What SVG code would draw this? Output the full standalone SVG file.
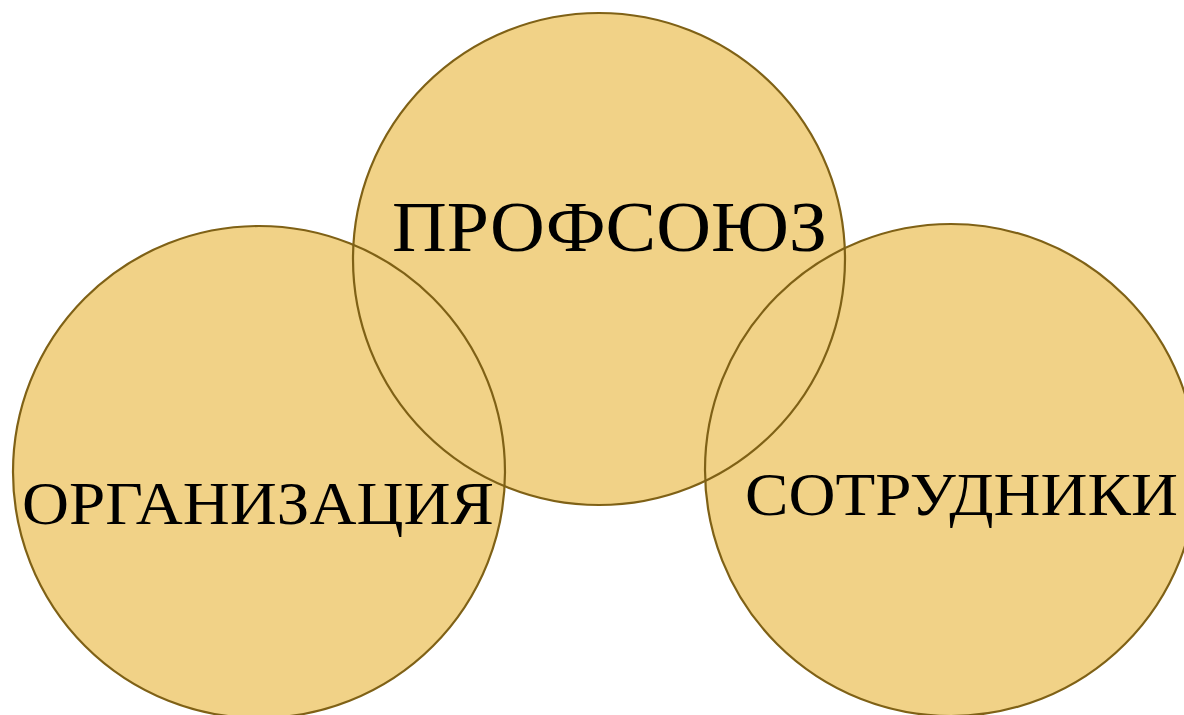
<svg xmlns="http://www.w3.org/2000/svg" width="1184" height="715" viewBox="0 0 1184 715">
  <style>
    .fill { fill: #F1D287; stroke: none; }
    .ring { fill: none; stroke: #7F6116; stroke-width: 2.2; }
    .lbl { font-family: "Liberation Serif", "DejaVu Serif", serif; fill: #000; }
  </style>
  <rect width="1184" height="715" fill="#ffffff"/>
  <g id="node-org">
    <circle class="fill" cx="259" cy="472" r="246"/>
  </g>
  <g id="node-union">
    <circle class="fill" cx="599" cy="259" r="246"/>
  </g>
  <g id="node-staff">
    <circle class="fill" cx="951" cy="470" r="246"/>
  </g>
  <g id="connectors">
    <circle class="ring" cx="259" cy="472" r="246"/>
    <circle class="ring" cx="599" cy="259" r="246"/>
    <circle class="ring" cx="951" cy="470" r="246"/>
  </g>
  <g id="labels">
    <text class="lbl" x="392" y="251" font-size="72" textLength="435" lengthAdjust="spacingAndGlyphs">ПРОФСОЮЗ</text>
    <text class="lbl" x="22" y="524" font-size="61" textLength="472" lengthAdjust="spacingAndGlyphs">ОРГАНИЗАЦИЯ</text>
    <text class="lbl" x="745" y="515" font-size="61" textLength="433" lengthAdjust="spacingAndGlyphs">СОТРУДНИКИ</text>
  </g>
</svg>
